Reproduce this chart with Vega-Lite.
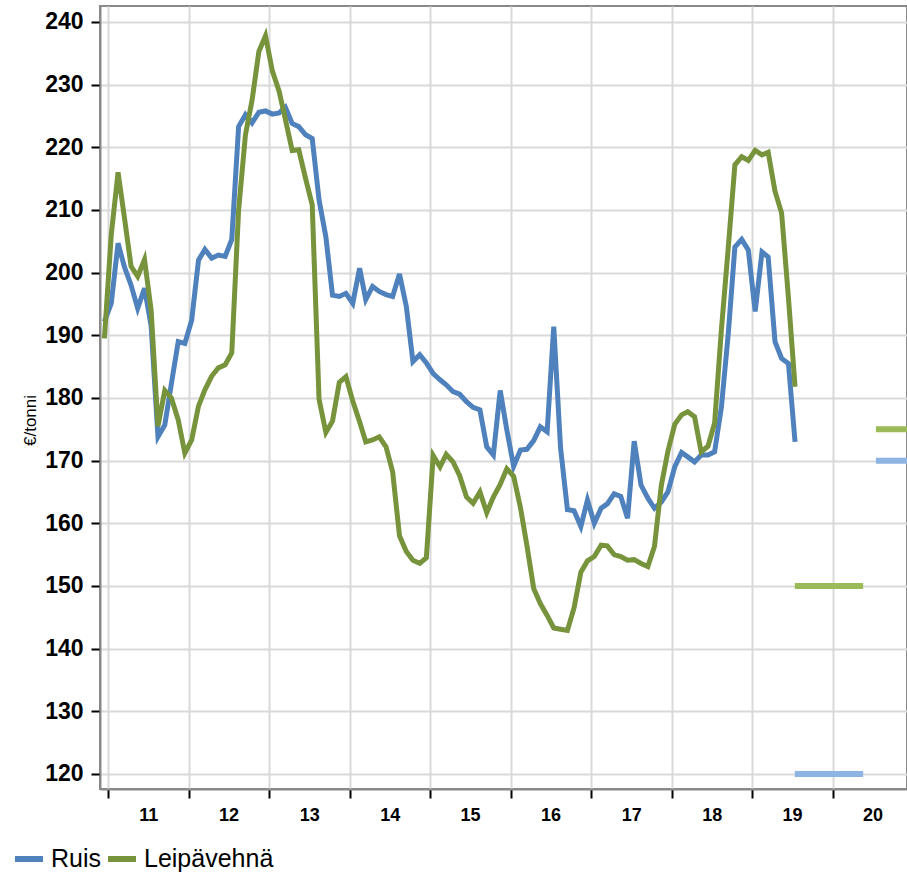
{
  "$schema": "https://vega.github.io/schema/vega-lite/v6.json",
  "width": 807,
  "height": 783,
  "autosize": {"type": "none"},
  "padding": {"left": 100, "top": 6, "right": 0, "bottom": 84},
  "background": "white",
  "config": {
    "view": {"stroke": "#898989", "strokeWidth": 2},
    "font": "Liberation Sans"
  },
  "datasets": {
    "prices": [
      {"date": "2010-12-15", "Ruis": 192.2, "Leipävehnä": 189.5},
      {"date": "2011-01-15", "Ruis": 195.1, "Leipävehnä": 206},
      {"date": "2011-02-15", "Ruis": 204.7, "Leipävehnä": 216},
      {"date": "2011-03-15", "Ruis": 201, "Leipävehnä": 209},
      {"date": "2011-04-15", "Ruis": 198, "Leipävehnä": 201},
      {"date": "2011-05-15", "Ruis": 194.3, "Leipävehnä": 199.4},
      {"date": "2011-06-15", "Ruis": 197.5, "Leipävehnä": 202.1},
      {"date": "2011-07-15", "Ruis": 191.5, "Leipävehnä": 194},
      {"date": "2011-08-15", "Ruis": 173.8, "Leipävehnä": 175.5},
      {"date": "2011-09-15", "Ruis": 175.7, "Leipävehnä": 181.2},
      {"date": "2011-10-15", "Ruis": 182.3, "Leipävehnä": 180},
      {"date": "2011-11-15", "Ruis": 189, "Leipävehnä": 176.5},
      {"date": "2011-12-15", "Ruis": 188.7, "Leipävehnä": 171.2},
      {"date": "2012-01-15", "Ruis": 192.4, "Leipävehnä": 173.3},
      {"date": "2012-02-15", "Ruis": 202, "Leipävehnä": 178.7},
      {"date": "2012-03-15", "Ruis": 203.7, "Leipävehnä": 181.3},
      {"date": "2012-04-15", "Ruis": 202.3, "Leipävehnä": 183.5},
      {"date": "2012-05-15", "Ruis": 202.8, "Leipävehnä": 184.8},
      {"date": "2012-06-15", "Ruis": 202.6, "Leipävehnä": 185.3},
      {"date": "2012-07-15", "Ruis": 205.3, "Leipävehnä": 187.2},
      {"date": "2012-08-15", "Ruis": 223.3, "Leipävehnä": 210},
      {"date": "2012-09-15", "Ruis": 225.2, "Leipävehnä": 222},
      {"date": "2012-10-15", "Ruis": 223.9, "Leipävehnä": 227.5},
      {"date": "2012-11-15", "Ruis": 225.6, "Leipävehnä": 235.3},
      {"date": "2012-12-15", "Ruis": 225.8, "Leipävehnä": 237.8},
      {"date": "2013-01-15", "Ruis": 225.3, "Leipävehnä": 232.2},
      {"date": "2013-02-15", "Ruis": 225.5, "Leipävehnä": 228.9},
      {"date": "2013-03-15", "Ruis": 226.4, "Leipävehnä": 224.5},
      {"date": "2013-04-15", "Ruis": 223.8, "Leipävehnä": 219.5},
      {"date": "2013-05-15", "Ruis": 223.3, "Leipävehnä": 219.6},
      {"date": "2013-06-15", "Ruis": 222, "Leipävehnä": 215},
      {"date": "2013-07-15", "Ruis": 221.4, "Leipävehnä": 210.8},
      {"date": "2013-08-15", "Ruis": 211.6, "Leipävehnä": 179.8},
      {"date": "2013-09-15", "Ruis": 205.7, "Leipävehnä": 174.5},
      {"date": "2013-10-15", "Ruis": 196.4, "Leipävehnä": 176.3},
      {"date": "2013-11-15", "Ruis": 196.2, "Leipävehnä": 182.5},
      {"date": "2013-12-15", "Ruis": 196.7, "Leipävehnä": 183.4},
      {"date": "2014-01-15", "Ruis": 195.1, "Leipävehnä": 179.5},
      {"date": "2014-02-15", "Ruis": 200.7, "Leipävehnä": 176.2},
      {"date": "2014-03-15", "Ruis": 195.7, "Leipävehnä": 173},
      {"date": "2014-04-15", "Ruis": 197.8, "Leipävehnä": 173.3},
      {"date": "2014-05-15", "Ruis": 197, "Leipävehnä": 173.8},
      {"date": "2014-06-15", "Ruis": 196.5, "Leipävehnä": 172.2},
      {"date": "2014-07-15", "Ruis": 196.2, "Leipävehnä": 168.2},
      {"date": "2014-08-15", "Ruis": 199.8, "Leipävehnä": 158},
      {"date": "2014-09-15", "Ruis": 194.6, "Leipävehnä": 155.5},
      {"date": "2014-10-15", "Ruis": 185.8, "Leipävehnä": 154.1},
      {"date": "2014-11-15", "Ruis": 186.9, "Leipävehnä": 153.6},
      {"date": "2014-12-15", "Ruis": 185.6, "Leipävehnä": 154.5},
      {"date": "2015-01-15", "Ruis": 183.9, "Leipävehnä": 170.8},
      {"date": "2015-02-15", "Ruis": 182.9, "Leipävehnä": 169},
      {"date": "2015-03-15", "Ruis": 182.1, "Leipävehnä": 171},
      {"date": "2015-04-15", "Ruis": 181, "Leipävehnä": 169.8},
      {"date": "2015-05-15", "Ruis": 180.6, "Leipävehnä": 167.6},
      {"date": "2015-06-15", "Ruis": 179.4, "Leipävehnä": 164.2},
      {"date": "2015-07-15", "Ruis": 178.5, "Leipävehnä": 163.2},
      {"date": "2015-08-15", "Ruis": 178.1, "Leipävehnä": 165},
      {"date": "2015-09-15", "Ruis": 172.2, "Leipävehnä": 161.7},
      {"date": "2015-10-15", "Ruis": 170.9, "Leipävehnä": 164.2},
      {"date": "2015-11-15", "Ruis": 181.2, "Leipävehnä": 166.2},
      {"date": "2015-12-15", "Ruis": 174.9, "Leipävehnä": 168.7},
      {"date": "2016-01-15", "Ruis": 169.1, "Leipävehnä": 167.5},
      {"date": "2016-02-15", "Ruis": 171.7, "Leipävehnä": 162.5},
      {"date": "2016-03-15", "Ruis": 171.8, "Leipävehnä": 156.5},
      {"date": "2016-04-15", "Ruis": 173.2, "Leipävehnä": 149.6},
      {"date": "2016-05-15", "Ruis": 175.4, "Leipävehnä": 147.2},
      {"date": "2016-06-15", "Ruis": 174.6, "Leipävehnä": 145.3},
      {"date": "2016-07-15", "Ruis": 191.4, "Leipävehnä": 143.3},
      {"date": "2016-08-15", "Ruis": 172, "Leipävehnä": 143.1},
      {"date": "2016-09-15", "Ruis": 162.2, "Leipävehnä": 142.9},
      {"date": "2016-10-15", "Ruis": 162, "Leipävehnä": 146.5},
      {"date": "2016-11-15", "Ruis": 159.5, "Leipävehnä": 152.2},
      {"date": "2016-12-15", "Ruis": 163.7, "Leipävehnä": 154},
      {"date": "2017-01-15", "Ruis": 160, "Leipävehnä": 154.7},
      {"date": "2017-02-15", "Ruis": 162.4, "Leipävehnä": 156.5},
      {"date": "2017-03-15", "Ruis": 163.1, "Leipävehnä": 156.4},
      {"date": "2017-04-15", "Ruis": 164.7, "Leipävehnä": 155},
      {"date": "2017-05-15", "Ruis": 164.3, "Leipävehnä": 154.7},
      {"date": "2017-06-15", "Ruis": 160.8, "Leipävehnä": 154.1},
      {"date": "2017-07-15", "Ruis": 173.1, "Leipävehnä": 154.2},
      {"date": "2017-08-15", "Ruis": 166.1, "Leipävehnä": 153.6},
      {"date": "2017-09-15", "Ruis": 164, "Leipävehnä": 153.1},
      {"date": "2017-10-15", "Ruis": 162.4, "Leipävehnä": 156.3},
      {"date": "2017-11-15", "Ruis": 163.4, "Leipävehnä": 166},
      {"date": "2017-12-15", "Ruis": 165, "Leipävehnä": 171.5},
      {"date": "2018-01-15", "Ruis": 169, "Leipävehnä": 175.8},
      {"date": "2018-02-15", "Ruis": 171.3, "Leipävehnä": 177.3},
      {"date": "2018-03-15", "Ruis": 170.6, "Leipävehnä": 177.8},
      {"date": "2018-04-15", "Ruis": 169.8, "Leipävehnä": 177},
      {"date": "2018-05-15", "Ruis": 170.9, "Leipävehnä": 171.4},
      {"date": "2018-06-15", "Ruis": 170.9, "Leipävehnä": 172.3},
      {"date": "2018-07-15", "Ruis": 171.4, "Leipävehnä": 176},
      {"date": "2018-08-15", "Ruis": 178.6, "Leipävehnä": 191},
      {"date": "2018-09-15", "Ruis": 190.3, "Leipävehnä": 204},
      {"date": "2018-10-15", "Ruis": 204.1, "Leipävehnä": 217.2},
      {"date": "2018-11-15", "Ruis": 205.3, "Leipävehnä": 218.5},
      {"date": "2018-12-15", "Ruis": 203.6, "Leipävehnä": 217.9},
      {"date": "2019-01-15", "Ruis": 193.8, "Leipävehnä": 219.5},
      {"date": "2019-02-15", "Ruis": 203.3, "Leipävehnä": 218.8},
      {"date": "2019-03-15", "Ruis": 202.5, "Leipävehnä": 219.2},
      {"date": "2019-04-15", "Ruis": 189, "Leipävehnä": 213},
      {"date": "2019-05-15", "Ruis": 186.3, "Leipävehnä": 209.5},
      {"date": "2019-06-15", "Ruis": 185.5, "Leipävehnä": 196},
      {"date": "2019-07-15", "Ruis": 173, "Leipävehnä": 181.8}
    ],
    "forecast": [
      {"series": "Leipävehnä", "start": "2019-07-14", "end": "2020-05-19", "value": 150},
      {"series": "Ruis", "start": "2019-07-14", "end": "2020-05-19", "value": 120},
      {"series": "Leipävehnä", "start": "2020-07-16", "end": "2021-05-19", "value": 175},
      {"series": "Ruis", "start": "2020-07-16", "end": "2021-05-19", "value": 170}
    ]
  },
  "layer": [
    {
      "data": {"name": "prices"},
      "transform": [{"fold": ["Ruis", "Leipävehnä"], "as": ["series", "value"]}],
      "mark": {"type": "line", "strokeWidth": 5, "clip": true},
      "encoding": {
        "x": {
          "field": "date",
          "type": "temporal",
          "scale": {
            "type": "utc",
            "domain": [
              {"year": 2010, "month": 11, "date": 25, "utc": true},
              {"year": 2020, "month": 12, "date": 4, "utc": true}
            ],
            "nice": false
          },
          "axis": {
            "title": null,
            "values": [
              {"year": 2011, "month": 1, "date": 1, "utc": true},
              {"year": 2012, "month": 1, "date": 1, "utc": true},
              {"year": 2013, "month": 1, "date": 1, "utc": true},
              {"year": 2014, "month": 1, "date": 1, "utc": true},
              {"year": 2015, "month": 1, "date": 1, "utc": true},
              {"year": 2016, "month": 1, "date": 1, "utc": true},
              {"year": 2017, "month": 1, "date": 1, "utc": true},
              {"year": 2018, "month": 1, "date": 1, "utc": true},
              {"year": 2019, "month": 1, "date": 1, "utc": true},
              {"year": 2020, "month": 1, "date": 1, "utc": true}
            ],
            "format": "%y",
            "labelOffset": 40,
            "labelFontSize": 18,
            "labelFontWeight": "bold",
            "labelColor": "black",
            "labelPadding": 8,
            "labelFlush": false,
            "labelOverlap": false,
            "tickColor": "black",
            "tickSize": 9,
            "tickWidth": 2,
            "domainColor": "#898989",
            "domainWidth": 2,
            "gridColor": "#d9d9d9",
            "gridWidth": 2
          }
        },
        "y": {
          "field": "value",
          "type": "quantitative",
          "scale": {"domain": [117.6, 242.55], "nice": false, "zero": false},
          "axis": {
            "title": "€/tonni",
            "titleFontSize": 17,
            "titleFontWeight": "normal",
            "titleColor": "black",
            "titleX": -70,
            "titleY": 414,
            "titleAlign": "center",
            "titleBaseline": "middle",
            "titleAngle": -90,
            "values": [120, 130, 140, 150, 160, 170, 180, 190, 200, 210, 220, 230, 240],
            "labelFontSize": 23,
            "labelFontWeight": "bold",
            "labelColor": "black",
            "labelPadding": 8,
            "tickColor": "black",
            "tickSize": 9,
            "tickWidth": 2,
            "domainColor": "#898989",
            "domainWidth": 2,
            "gridColor": "#d9d9d9",
            "gridWidth": 2
          }
        },
        "color": {
          "field": "series",
          "type": "nominal",
          "scale": {"domain": ["Ruis", "Leipävehnä"], "range": ["#4F81BD", "#77933C"]},
          "legend": {
            "title": null,
            "orient": "none",
            "legendX": -88,
            "legendY": 836,
            "direction": "horizontal",
            "padding": 0,
            "symbolType": "stroke",
            "symbolStrokeWidth": 6,
            "symbolSize": 784,
            "labelFontSize": 25,
            "labelColor": "black",
            "labelOffset": 5,
            "columnPadding": -6
          }
        }
      }
    },
    {
      "data": {"name": "forecast"},
      "mark": {"type": "rule", "strokeWidth": 6, "clip": true},
      "encoding": {
        "x": {"field": "start", "type": "temporal"},
        "x2": {"field": "end"},
        "y": {"field": "value", "type": "quantitative"},
        "color": {
          "field": "series",
          "type": "nominal",
          "scale": {"domain": ["Ruis", "Leipävehnä"], "range": ["#8DB4E2", "#9BBB59"]},
          "legend": null
        }
      }
    }
  ],
  "resolve": {"scale": {"color": "independent"}}
}
